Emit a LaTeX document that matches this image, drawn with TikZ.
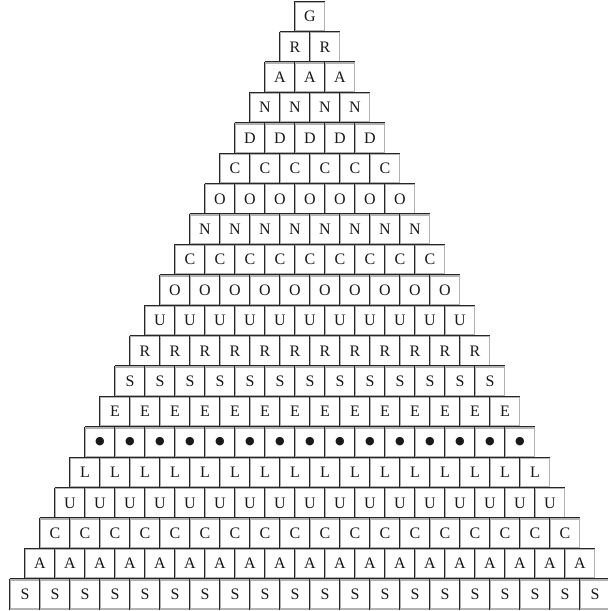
\documentclass[tikz,border=0pt]{standalone}
\usepackage{fontspec}
\setmainfont{Liberation Serif}
\newfontfamily\symfont{DejaVu Sans}
\begin{document}
\begin{tikzpicture}[x=1pt,y=-1pt,
  cellbox/.style={draw=gray!60,line width=1.8pt,fill=white,minimum width=29pt,minimum height=29pt,inner sep=0pt,font=\fontsize{16}{16}\selectfont,text=black!90},
  edgeline/.style={black!85,line width=1pt}]
\useasboundingbox (0,0) rectangle (608,611);
\fill[white] (0,0) rectangle (608,611);
\foreach \L [count=\i from 0] in {G,R,A,N,D,C,O,N,C,O,U,R,S,E,{\symfont\fontsize{11}{11}\selectfont ●},L,U,C,A,S}{
  \pgfmathsetmacro{\n}{\i}
  \foreach \j in {0,...,\n}{
    \pgfmathsetmacro{\cx}{310-15*\i+30*\j}
    \pgfmathsetmacro{\cy}{16.5+30.4*\i}
    \node[cellbox] (c-\i-\j) at (\cx,\cy) {\L};
    \draw[edgeline] (c-\i-\j.north west) -- (c-\i-\j.south west);
    \draw[edgeline] (c-\i-\j.north west) -- (c-\i-\j.north east);
  }
}
\end{tikzpicture}
\end{document}
